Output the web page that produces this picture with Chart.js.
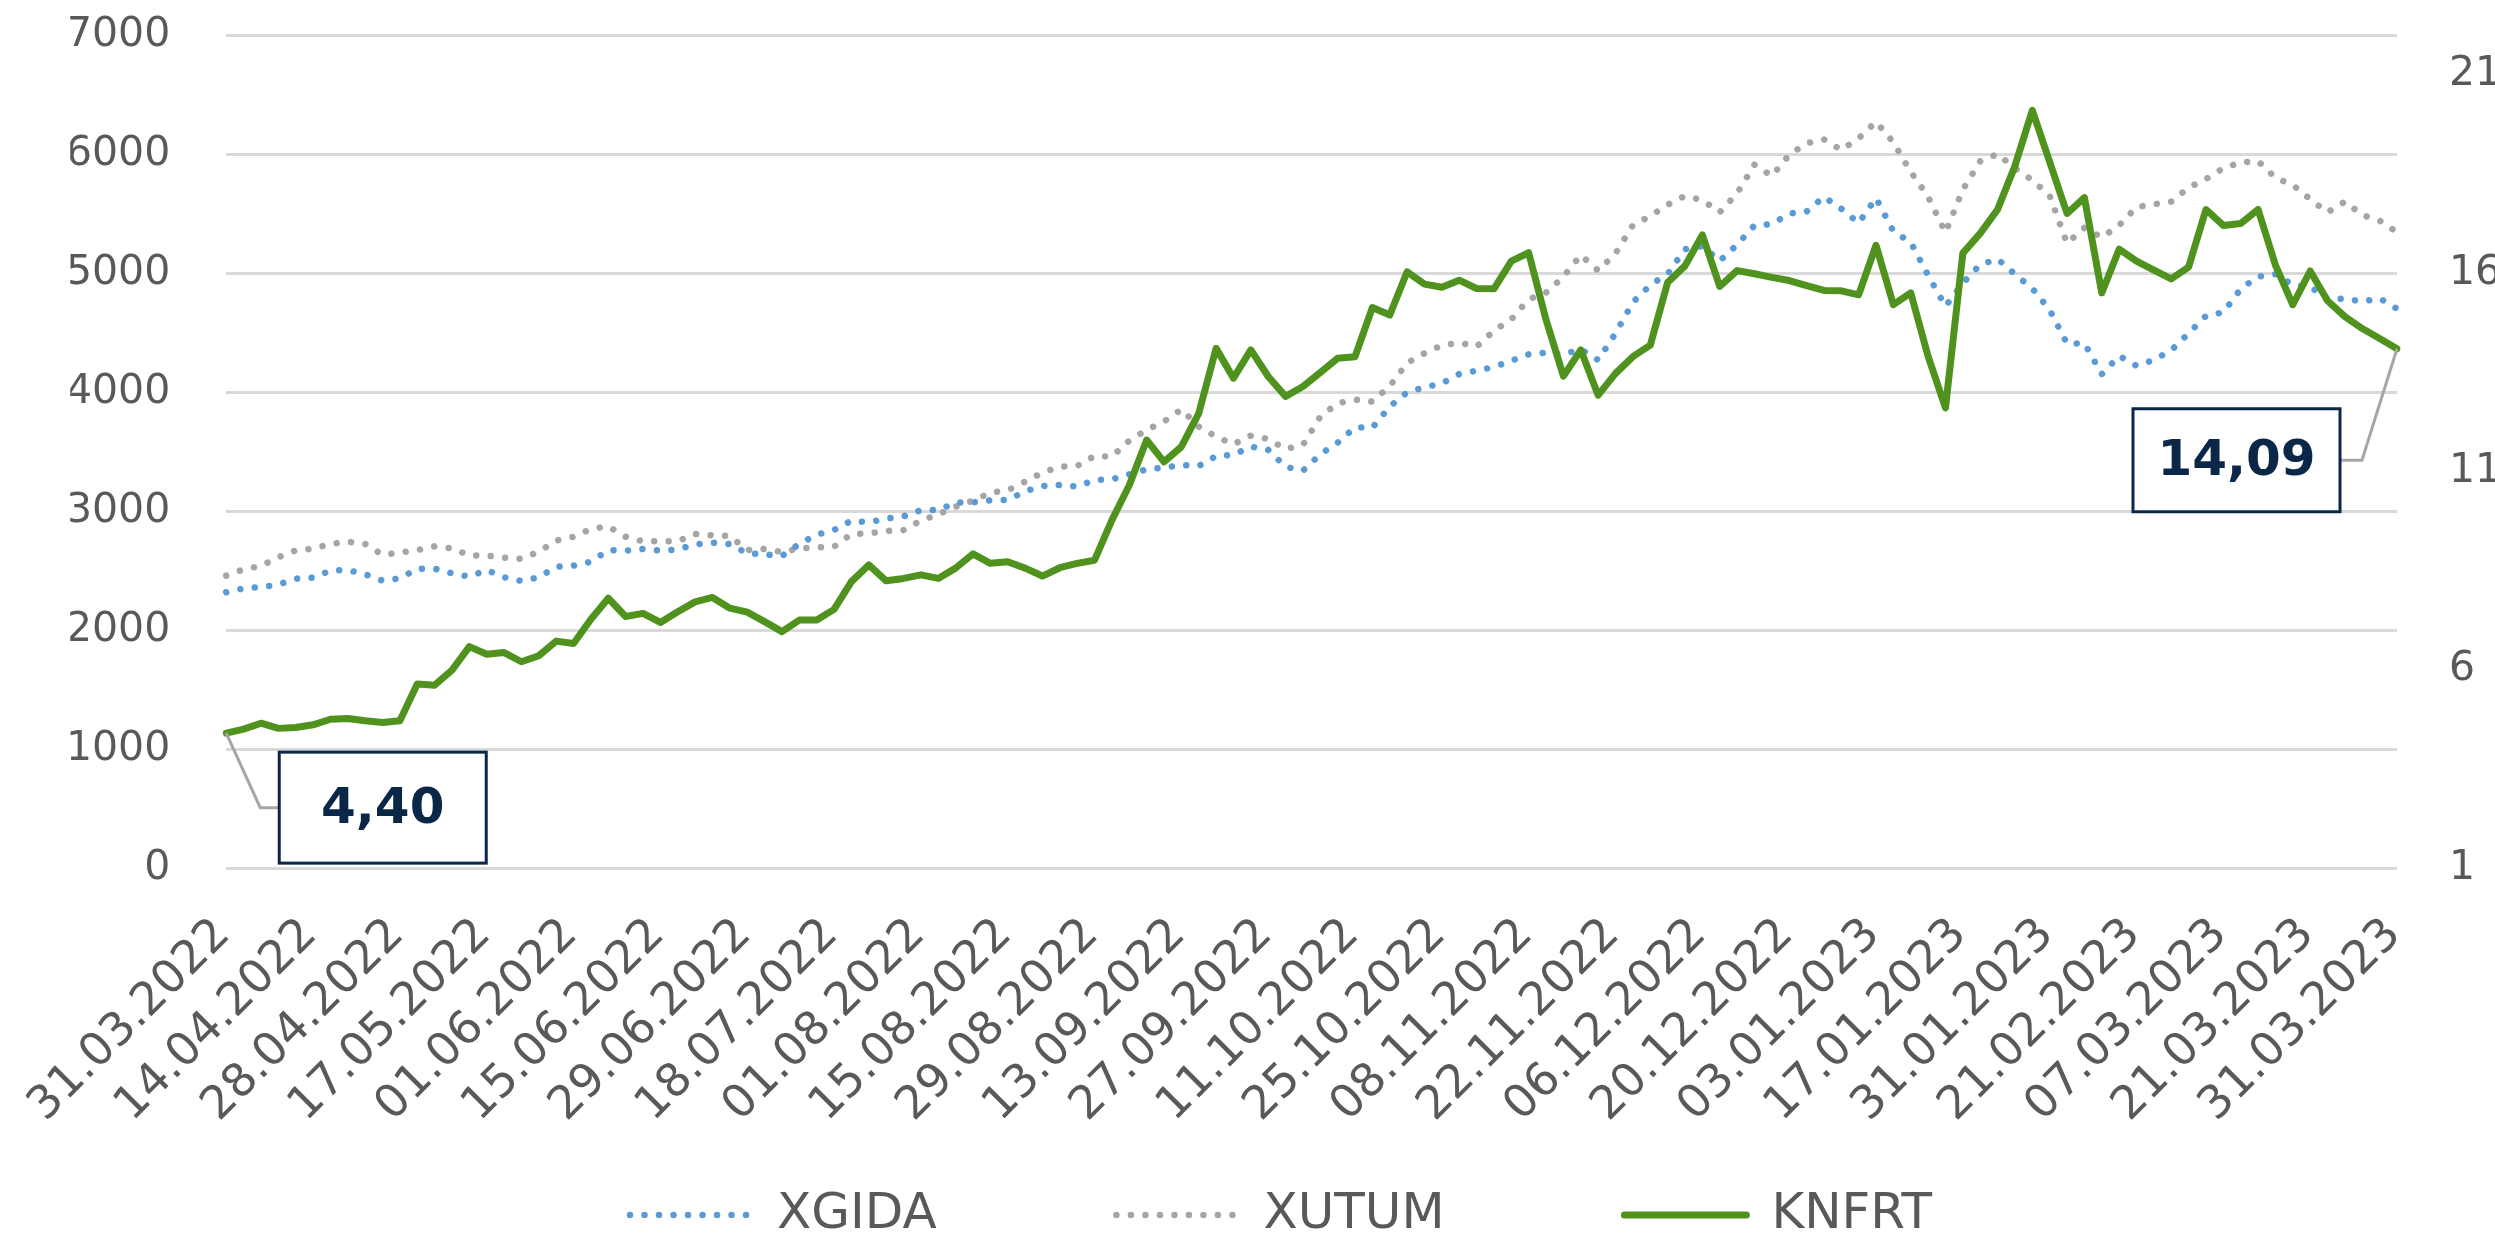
<!DOCTYPE html>
<html>
<head>
<meta charset="utf-8">
<title>XGIDA / XUTUM / KNFRT</title>
<script src="https://cdn.jsdelivr.net/npm/chart.js"></script>
<style>
    html, body { margin: 0; padding: 0; background: #ffffff; }
    #wrap { width: 2495px; height: 1245px; }
</style>
</head>
<body>
<div id="wrap"><canvas id="chart" width="2495" height="1245"></canvas></div>
<script>
// one tick label every 5 points
const dateTicks = [
    "31.03.2022", "14.04.2022", "28.04.2022", "17.05.2022", "01.06.2022", "15.06.2022",
    "29.06.2022", "18.07.2022", "01.08.2022", "15.08.2022", "29.08.2022", "13.09.2022",
    "27.09.2022", "11.10.2022", "25.10.2022", "08.11.2022", "22.11.2022", "06.12.2022",
    "20.12.2022", "03.01.2023", "17.01.2023", "31.01.2023", "21.02.2023", "07.03.2023",
    "21.03.2023", "31.03.2023"
];

const xgida = [
    2317, 2350, 2361, 2381, 2431, 2440, 2499, 2504, 2468, 2415,
    2434, 2515, 2515, 2476, 2448, 2504, 2443, 2412, 2443, 2532,
    2541, 2574, 2672, 2667, 2681, 2667, 2676, 2720, 2734, 2722,
    2644, 2636, 2622, 2723, 2801, 2840, 2919, 2905, 2936, 2955,
    3006, 3008, 3070, 3073, 3090, 3092, 3165, 3210, 3218, 3204,
    3261, 3266, 3308, 3350, 3364, 3387, 3378, 3462, 3471, 3541,
    3513, 3372, 3339, 3476, 3574, 3703, 3700, 3877, 3997, 4039,
    4073, 4151, 4179, 4210, 4263, 4317, 4330, 4317, 4359, 4269,
    4493, 4754, 4899, 4992, 5200, 5225, 5101, 5238, 5400, 5410,
    5500, 5516, 5640, 5540, 5420, 5630, 5350, 5258, 4980, 4720,
    4915, 5070, 5118, 4990, 4870, 4690, 4406, 4410, 4150, 4303,
    4220, 4270, 4350, 4493, 4640, 4669, 4866, 4970, 4990, 4900,
    4885, 4780, 4784, 4760, 4787, 4700
];

const xutum = [
    2457, 2510, 2538, 2611, 2669, 2683, 2723, 2742, 2723, 2633,
    2650, 2672, 2703, 2686, 2627, 2625, 2608, 2597, 2658, 2751,
    2784, 2849, 2871, 2784, 2745, 2745, 2745, 2807, 2796, 2790,
    2672, 2681, 2655, 2686, 2693, 2700, 2807, 2812, 2832, 2840,
    2919, 2972, 3036, 3087, 3154, 3174, 3246, 3322, 3372, 3378,
    3462, 3457, 3591, 3681, 3751, 3854, 3709, 3625, 3560, 3633,
    3605, 3521, 3555, 3793, 3905, 3936, 3919, 4050, 4244, 4325,
    4392, 4415, 4381, 4515, 4611, 4779, 4835, 4969, 5151, 5020,
    5165, 5401, 5479, 5574, 5647, 5613, 5510, 5669, 5910, 5815,
    5992, 6090, 6123, 6034, 6132, 6270, 6098, 5850, 5640, 5340,
    5700, 5940, 6000, 5880, 5780, 5650, 5249, 5380, 5300, 5400,
    5554, 5577, 5600, 5717, 5790, 5880, 5930, 5940, 5800, 5740,
    5620, 5510, 5600, 5487, 5440, 5342
];

// KNFRT price, right axis
const knfrt = [
    4.40, 4.50, 4.65, 4.52, 4.54, 4.61, 4.75, 4.77, 4.71, 4.67,
    4.71, 5.64, 5.61, 5.99, 6.58, 6.39, 6.43, 6.20, 6.35, 6.72,
    6.66, 7.27, 7.80, 7.34, 7.42, 7.19, 7.46, 7.71, 7.82, 7.55,
    7.45, 7.21, 6.96, 7.25, 7.25, 7.52, 8.22, 8.64, 8.24, 8.30,
    8.39, 8.30, 8.56, 8.92, 8.68, 8.72, 8.56, 8.36, 8.57, 8.68,
    8.76, 9.77, 10.65, 11.79, 11.24, 11.62, 12.46, 14.10, 13.35, 14.06,
    13.39, 12.89, 13.14, 13.49, 13.85, 13.89, 15.13, 14.94, 16.03, 15.72,
    15.64, 15.82, 15.61, 15.60, 16.30, 16.51, 14.82, 13.40, 14.06, 12.92,
    13.47, 13.89, 14.18, 15.76, 16.18, 16.96, 15.66, 16.06, 15.98, 15.89,
    15.81, 15.68, 15.56, 15.55, 15.45, 16.70, 15.20, 15.50, 13.90, 12.60,
    16.50, 17.00, 17.60, 18.70, 20.10, 18.80, 17.50, 17.90, 15.50, 16.60,
    16.30, 16.07, 15.85, 16.15, 17.60, 17.20, 17.25, 17.60, 16.20, 15.20,
    16.05, 15.30, 14.90, 14.60, 14.35, 14.09
];

const rightTicks = [1, 6, 11, 16, 21];

const labels = xgida.map((_, i) => (i % 5 === 0 ? dateTicks[i / 5] : ""));

const textColor = "#595959";
const navy = "#0b2748";
const clear = "rgba(0,0,0,0)";
const fontFamily = "'DejaVu Sans', Verdana, sans-serif";
const legendGap = "\u00A0".repeat(11);

function formatValue(v) {
    return v.toFixed(2).replace(".", ",");
}

function drawValueBox(ctx, text, left, top, width, height) {
    ctx.fillStyle = "#ffffff";
    ctx.fillRect(left, top, width, height);
    ctx.lineWidth = 3;
    ctx.strokeStyle = navy;
    ctx.strokeRect(left, top, width, height);
    ctx.fillStyle = navy;
    ctx.font = "bold 50px " + fontFamily;
    ctx.textAlign = "center";
    ctx.textBaseline = "middle";
    ctx.fillText(text, left + width / 2, top + height / 2 + 2);
}

// first / last KNFRT value labels with leader lines
const valueBoxes = {
    id: "valueBoxes",
    afterDatasetsDraw(chart) {
        const points = chart.getDatasetMeta(2).data;
        const first = points[0];
        const last = points[points.length - 1];
        const ctx = chart.ctx;
        ctx.save();

        const l = { left: first.x + 53, top: first.y + 19, w: 207, h: 111 };
        const r = { left: last.x - 57 - 207, top: last.y + 60, w: 207, h: 103 };

        ctx.strokeStyle = "#a6a6a6";
        ctx.lineWidth = 3;
        ctx.beginPath();
        ctx.moveTo(first.x, first.y);
        ctx.lineTo(first.x + 34, l.top + l.h / 2);
        ctx.lineTo(l.left, l.top + l.h / 2);
        ctx.moveTo(r.left + r.w, r.top + r.h / 2);
        ctx.lineTo(r.left + r.w + 22, r.top + r.h / 2);
        ctx.lineTo(last.x, last.y);
        ctx.stroke();

        drawValueBox(ctx, formatValue(knfrt[0]), l.left, l.top, l.w, l.h);
        drawValueBox(ctx, formatValue(knfrt[knfrt.length - 1]), r.left, r.top, r.w, r.h);
        ctx.restore();
    }
};

new Chart(document.getElementById("chart"), {
    type: "line",
    data: {
        labels: labels,
        datasets: [
            {
                label: "XGIDA",
                data: xgida,
                yAxisID: "y",
                borderColor: "#5b9bd5",
                backgroundColor: "#5b9bd5",
                borderWidth: 6.5,
                borderDash: [0.001, 14.5],
                borderCapStyle: "round",
                pointRadius: 0,
                tension: 0,
                order: 1
            },
            {
                label: "XUTUM",
                data: xutum,
                yAxisID: "y",
                borderColor: "#a5a5a5",
                backgroundColor: "#a5a5a5",
                borderWidth: 6.5,
                borderDash: [0.001, 14.5],
                borderCapStyle: "round",
                pointRadius: 0,
                tension: 0,
                order: 2
            },
            {
                label: "KNFRT",
                data: knfrt,
                yAxisID: "y1",
                borderColor: "#4f931e",
                backgroundColor: "#4f931e",
                borderWidth: 7,
                borderJoinStyle: "round",
                borderCapStyle: "round",
                pointRadius: 0,
                tension: 0,
                order: 0
            }
        ]
    },
    options: {
        responsive: false,
        animation: false,
        devicePixelRatio: 1,
        layout: { padding: { left: 67, top: 35, right: 0, bottom: -5 } },
        plugins: {
            tooltip: { enabled: false },
            legend: {
                position: "bottom",
                labels: {
                    usePointStyle: true,
                    pointStyle: "line",
                    pointStyleWidth: 122,
                    padding: 5,
                    color: textColor,
                    font: { family: fontFamily, size: 50 },
                    sort: (a, b) => a.datasetIndex - b.datasetIndex,
                    generateLabels(chart) {
                        const items = Chart.defaults.plugins.legend.labels.generateLabels(chart);
                        return items.map((item) => {
                            const ds = chart.data.datasets[item.datasetIndex];
                            return {
                                ...item,
                                text: item.datasetIndex < 2 ? item.text + legendGap : item.text,
                                strokeStyle: ds.borderColor,
                                lineWidth: ds.borderWidth,
                                lineDash: ds.borderDash || [],
                                lineCap: ds.borderCapStyle || "butt"
                            };
                        });
                    }
                }
            }
        },
        scales: {
            x: {
                grid: { display: false, drawTicks: false },
                border: { display: false },
                ticks: {
                    autoSkip: false,
                    minRotation: 45,
                    maxRotation: 45,
                    padding: 40,
                    labelOffset: -3,
                    color: textColor,
                    font: { family: fontFamily, size: 46 },
                    callback: (value, index) => labels[index]
                },
                afterFit: (scale) => { scale.height = 317; }
            },
            y: {
                position: "left",
                min: 0,
                max: 7000,
                grid: { color: "#d9d9d9", lineWidth: 3, drawTicks: true, tickLength: 56, tickColor: clear },
                border: { display: false },
                ticks: {
                    stepSize: 1000,
                    padding: 0,
                    color: textColor,
                    font: { family: fontFamily, size: 41 },
                    callback: (value) => String(value)
                },
                afterFit: (scale) => { scale.width = 156; }
            },
            y1: {
                position: "right",
                min: 1,
                max: 22,
                grid: { drawOnChartArea: false, drawTicks: true, tickLength: 52, color: clear, tickColor: clear },
                border: { display: false },
                ticks: {
                    padding: 0,
                    color: textColor,
                    font: { family: fontFamily, size: 41 },
                    callback: (value) => String(value)
                },
                afterBuildTicks: (scale) => {
                    scale.ticks = rightTicks.map((v) => ({ value: v }));
                },
                afterFit: (scale) => { scale.width = 98; }
            }
        }
    },
    plugins: [valueBoxes]
});
</script>
</body>
</html>
